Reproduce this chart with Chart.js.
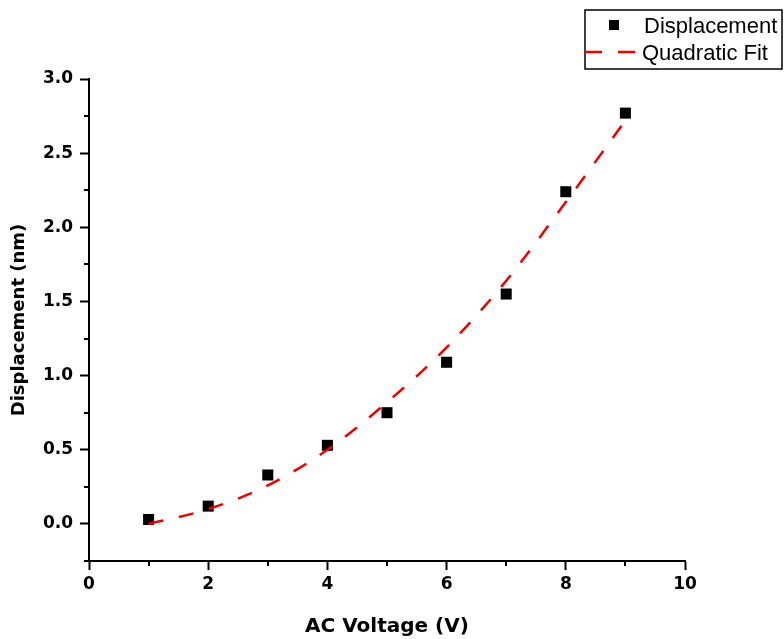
<!DOCTYPE html>
<html>
<head>
<meta charset="utf-8">
<script src="https://cdn.jsdelivr.net/npm/chart.js@4.4.1/dist/chart.umd.min.js"></script>
<style>
    html, body { margin: 0; padding: 0; background: #fff; }
    #wrap { width: 784px; height: 639px; }
</style>
</head>
<body>
<div id="wrap"><canvas id="chart" width="784" height="639"></canvas></div>
<script>
// Measured points (AC voltage in V, displacement in nm)
const voltage = [1, 2, 3, 4, 5, 6, 7, 8, 9];
const displacement = [0.03, 0.12, 0.33, 0.53, 0.75, 1.09, 1.55, 2.24, 2.77];

// Quadratic fit curve
const fitVoltage = [1, 2, 3, 4, 5, 6, 7, 8, 9];
const fitDisplacement = [0.00, 0.10, 0.26, 0.50, 0.82, 1.19, 1.64, 2.17, 2.72];

// Axis ticks
const xTicks = [0, 2, 4, 6, 8, 10];
const xMinor = [1, 3, 5, 7, 9];
const yTicks = [0.0, 0.5, 1.0, 1.5, 2.0, 2.5, 3.0];
const yMinor = [-0.25, 0.25, 0.75, 1.25, 1.75, 2.25, 2.75];

const legendItems = ['Displacement', 'Quadratic Fit'];

const RED = '#ee0000';
const tickFont = { family: 'DejaVu Sans', weight: 'bold', size: 17 };

// minor ticks + boxed legend in the top right corner
const extras = {
    id: 'extras',
    afterDraw(chart) {
        const ctx = chart.ctx;
        const xs = chart.scales.x, ys = chart.scales.y;
        ctx.save();
        ctx.strokeStyle = '#000';
        ctx.lineWidth = 2;
        ctx.beginPath();
        xMinor.forEach(v => {
            const px = Math.round(xs.getPixelForValue(v));
            ctx.moveTo(px, xs.top);
            ctx.lineTo(px, xs.top + 5);
        });
        yMinor.forEach(v => {
            const py = Math.round(ys.getPixelForValue(v));
            ctx.moveTo(ys.right, py);
            ctx.lineTo(ys.right - 5, py);
        });
        ctx.stroke();

        // legend
        ctx.lineWidth = 1.5;
        ctx.strokeRect(585, 10, 197, 59);
        ctx.fillStyle = '#000';
        ctx.fillRect(609, 20, 10, 10);
        ctx.strokeStyle = RED;
        ctx.lineWidth = 2.5;
        ctx.setLineDash([17, 16]);
        ctx.beginPath();
        ctx.moveTo(585, 52);
        ctx.lineTo(636, 52);
        ctx.stroke();
        ctx.setLineDash([]);
        ctx.font = '22px "Liberation Sans"';
        ctx.textBaseline = 'alphabetic';
        ctx.fillText(legendItems[0], 644, 33);
        ctx.fillText(legendItems[1], 642, 60);
        ctx.restore();
    }
};

const ctx = document.getElementById('chart').getContext('2d');
const chart = new Chart(ctx, {
    type: 'scatter',
    data: {
        datasets: [
            {
                label: legendItems[1],
                type: 'line',
                data: fitVoltage.map((v, i) => ({ x: v, y: fitDisplacement[i] })),
                borderColor: RED,
                borderWidth: 2.5,
                borderDash: [15, 16],
                pointRadius: 0,
                fill: false,
                cubicInterpolationMode: 'monotone',
                order: 0
            },
            {
                label: legendItems[0],
                data: voltage.map((v, i) => ({ x: v, y: displacement[i] })),
                pointStyle: 'rect',
                pointRadius: 7.8,
                backgroundColor: '#000',
                borderColor: '#000',
                borderWidth: 0,
                order: 1
            }
        ]
    },
    options: {
        responsive: false,
        animation: false,
        layout: { padding: { top: 79, right: 99, left: 0, bottom: 0 } },
        plugins: {
            legend: { display: false },
            tooltip: { enabled: false }
        },
        scales: {
            x: {
                type: 'linear',
                min: 0,
                max: 10,
                afterBuildTicks: s => { s.ticks = xTicks.map(v => ({ value: v })); },
                afterFit: s => { s.height = 78; },
                border: { display: true, color: '#000', width: 2 },
                grid: { drawOnChartArea: false, drawTicks: true, tickLength: 9, tickColor: '#000', tickWidth: 2 },
                ticks: { color: '#000', font: tickFont, padding: 4, maxRotation: 0 },
                title: {
                    display: true,
                    text: 'AC Voltage (V)',
                    color: '#000',
                    font: { family: 'DejaVu Sans', weight: 'bold', size: 20 },
                    padding: { top: 6, bottom: 0 }
                }
            },
            y: {
                type: 'linear',
                min: -0.25,
                max: 3.0,
                afterBuildTicks: s => { s.ticks = yTicks.map(v => ({ value: v })); },
                afterFit: s => { s.width = 89; },
                border: { display: true, color: '#000', width: 2 },
                grid: { drawOnChartArea: false, drawTicks: true, tickLength: 9, tickColor: '#000', tickWidth: 2 },
                ticks: {
                    color: '#000',
                    font: tickFont,
                    padding: 7,
                    callback: v => v.toFixed(1)
                },
                title: {
                    display: true,
                    text: 'Displacement (nm)',
                    color: '#000',
                    font: { family: 'DejaVu Sans', weight: 'bold', size: 18 },
                    padding: { top: 9, bottom: 0 }
                }
            }
        }
    },
    plugins: [extras]
});
</script>
</body>
</html>
